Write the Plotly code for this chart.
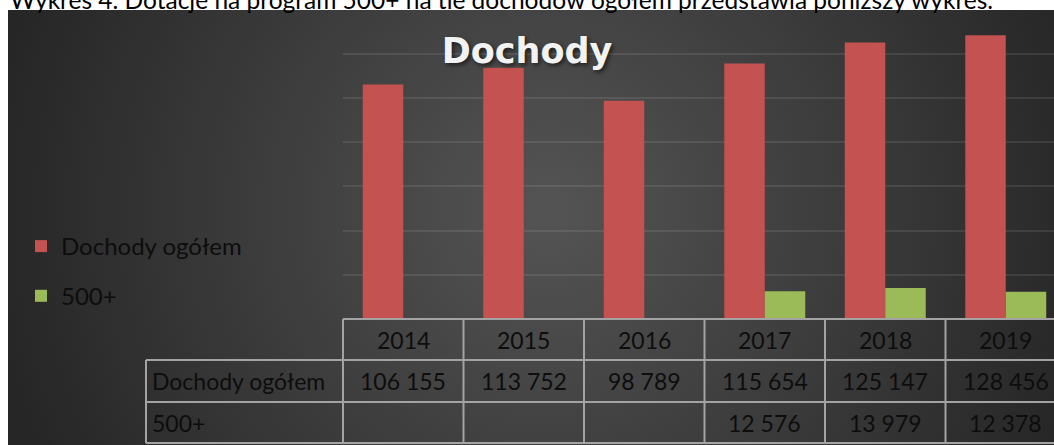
import base64
import plotly.graph_objects as go

# ---- data ----
years = ["2014", "2015", "2016", "2017", "2018", "2019"]
dochody = [106155, 113752, 98789, 115654, 125147, 128456]
p500 = [None, None, None, 12576, 13979, 12378]
series_names = ["Dochody ogółem", "500+"]
title_text = "Dochody"
caption = "Wykres 4. Dotacje na program 500+ na tle dochodów ogółem przedstawia poniższy wykres."

# ---- geometry (pixels) ----
W, H = 1054, 445
PL, PR, PT, PB = 343, 1054, 10, 319
COLW = 120.5
FONT = "Lato"
RED = "#c35250"
GREEN = "#9bbb59"
LINE = "#a3a3a3"


def px(x):
    return (x - PL) / (PR - PL)


def py(y):
    return (PB - y) / (PB - PT)


def fmt(v):
    return "" if v is None else f"{v:,}".replace(",", " ")


fig = go.Figure()
fig.add_trace(go.Bar(x=years, y=dochody, name=series_names[0], marker_color=RED,
                     marker_line_width=0, legendgroup="a"))
fig.add_trace(go.Bar(x=years, y=p500, name=series_names[1], marker_color=GREEN,
                     marker_line_width=0, legendgroup="b"))

# background gradient image
svg = ('<svg xmlns="http://www.w3.org/2000/svg" width="1046" height="435" viewBox="0 0 1046 435">'
       '<defs><radialGradient id="g" gradientUnits="userSpaceOnUse" cx="540" cy="200" r="560">'
       '<stop offset="0" stop-color="#545454"/><stop offset="1" stop-color="#262626"/>'
       '</radialGradient></defs><rect width="1046" height="435" fill="url(#g)"/></svg>')
src = "data:image/svg+xml;base64," + base64.b64encode(svg.encode()).decode()

shapes = []
n = len(years)
xr_end = -0.5 + (PR - PL) / COLW
# table lines
row_y = [319, 360, 402, 443]
label_left = 146
shapes.append(dict(type="line", xref="paper", yref="paper", x0=px(PL), x1=px(W + 20),
                   y0=py(row_y[0]), y1=py(row_y[0]), line=dict(color=LINE, width=2)))
for ry in row_y[1:]:
    shapes.append(dict(type="line", xref="paper", yref="paper", x0=px(label_left), x1=px(W + 20),
                       y0=py(ry), y1=py(ry), line=dict(color=LINE, width=2)))
shapes.append(dict(type="line", xref="paper", yref="paper", x0=px(label_left), x1=px(label_left),
                   y0=py(row_y[1]), y1=py(row_y[3]), line=dict(color=LINE, width=2)))
for k in range(n + 1):
    xx = PL + k * COLW
    shapes.append(dict(type="line", xref="paper", yref="paper", x0=px(xx), x1=px(xx),
                       y0=py(row_y[0]), y1=py(row_y[3]), line=dict(color=LINE, width=2)))

annotations = []
tfont = dict(family=FONT, size=23, color="#0d0d0d")
row_c = [(row_y[i] + row_y[i + 1]) / 2 for i in range(3)]
for i, yr in enumerate(years):
    annotations.append(dict(x=i, xref="x", y=py(row_c[0]), yref="paper", text=yr,
                            showarrow=False, font=tfont, xanchor="center", yanchor="middle"))
    annotations.append(dict(x=i, xref="x", y=py(row_c[1]), yref="paper", text=fmt(dochody[i]),
                            showarrow=False, font=tfont, xanchor="center", yanchor="middle"))
    if p500[i] is not None:
        annotations.append(dict(x=i, xref="x", y=py(row_c[2]), yref="paper", text=fmt(p500[i]),
                                showarrow=False, font=tfont, xanchor="center", yanchor="middle"))
for j, nm in enumerate(series_names):
    annotations.append(dict(x=px(150), xref="paper", y=py(row_c[j + 1]), yref="paper", text=nm,
                            showarrow=False, font=tfont, xanchor="left", yanchor="middle"))
annotations.append(dict(x=px(8), xref="paper", y=py(0), yref="paper", text=caption,
                        showarrow=False, font=dict(family=FONT, size=24.5, color="#000000"),
                        xanchor="left", yanchor="middle"))

fig.update_layout(
    width=W, height=H,
    margin=dict(l=PL, r=W - PR, t=PT, b=H - PB, autoexpand=False, pad=0),
    paper_bgcolor="white", plot_bgcolor="rgba(0,0,0,0)",
    barmode="group", bargap=0.328, bargroupgap=0,
    images=[dict(source=src, xref="paper", yref="paper", x=px(8), y=py(10),
                 sizex=(W - 8) / (PR - PL), sizey=(H - 10) / (PB - PT),
                 xanchor="left", yanchor="top", sizing="stretch", layer="below")],
    xaxis=dict(type="category", range=[-0.5, xr_end], showticklabels=False,
               showgrid=False, zeroline=False, showline=False, ticks=""),
    yaxis=dict(range=[0, 139900], dtick=20000, showticklabels=False, showgrid=True,
               gridcolor="rgba(255,255,255,0.09)", gridwidth=2, zeroline=False,
               showline=False, ticks=""),
    title=dict(text=title_text, x=0.5, xref="container", xanchor="center",
               y=1 - 51 / H, yref="container", yanchor="middle",
               font=dict(family="DejaVu Sans", size=35, weight=700, color="#f2f2f2",
                         shadow="2px 2px 4px rgba(0,0,0,0.6)")),
    showlegend=True,
    legend=dict(x=px(21), xanchor="left", y=py(224), yanchor="top",
                font=dict(family=FONT, size=24, color="#0d0d0d"),
                bgcolor="rgba(0,0,0,0)", traceorder="grouped", tracegroupgap=15.5),
    shapes=shapes, annotations=annotations,
)

fig.write_html("out.html", config={"displayModeBar": False},
               post_script="document.body.style.margin='0';")
